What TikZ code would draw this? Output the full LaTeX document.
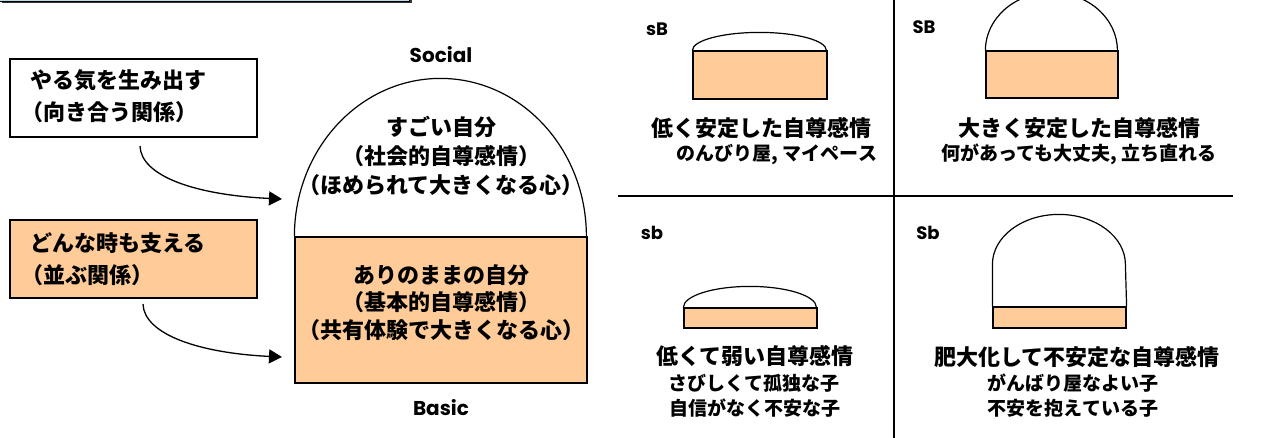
\documentclass[tikz,border=0pt]{standalone}
\usepackage{fontspec}
\setmainfont{Noto Sans CJK JP}
\newfontfamily\lat{Poppins}
\usetikzlibrary{arrows.meta}
\definecolor{peach}{HTML}{FFCC99}
\definecolor{lblue}{HTML}{B7DEE8}
\newcommand\lp{\hbox{\kern-.4em（}}
\newcommand\rp{\hbox{）\kern-.4em}}
\begin{document}
\begin{tikzpicture}[x=1pt,y=-1pt,
  jbig/.style={font=\fontsize{22}{29}\selectfont\bfseries, align=center, inner sep=0pt},
  jsmall/.style={font=\fontsize{19}{25.5}\selectfont\bfseries, align=center, inner sep=0pt},
  jleft/.style={font=\fontsize{22}{32}\selectfont\bfseries, align=left, inner sep=0pt, anchor=west},
  latlab/.style={font=\lat\bfseries\fontsize{18}{18}\selectfont, inner sep=0pt},
  latbig/.style={font=\lat\bfseries\fontsize{20}{20}\selectfont, inner sep=0pt},
  leftbox/.style={draw, line width=1.5pt, minimum width=247pt, minimum height=78pt, inner sep=0pt},
  thin/.style={line width=1.2pt},
  sep/.style={line width=1.8pt},
  arr/.style={line width=1.3pt, -{Triangle[length=13pt,width=14pt]}}
]
\useasboundingbox (0,0) rectangle (1263,437);

% partial top box (cut off by the picture's top edge)
\fill[black!80] (2,-20) rectangle (412,3);
\draw[fill=lblue, line width=0.8pt] (-3,-20) rectangle (409.5,1.6);

% left boxes
\node[leftbox, fill=white] (b1) at (133.5,98) {};
\node[jleft] (t1) at (30,96) {やる気を生み出す\\\lp 向き合う関係\rp};
\node[leftbox, fill=peach] (b2) at (133.5,259) {};
\node[jleft] (t2) at (30,259) {どんな時も支える\\\lp 並ぶ関係\rp};

% main dome
\node[draw, thin, fill=peach, minimum width=292pt, minimum height=146pt, inner sep=0pt]
  (base) at (441,310) {};
\draw[thin] (base.north west) arc[start angle=180, end angle=360, x radius=146, y radius=158];
\node[latbig] (soc) at (441,55) {Social};
\node[latbig] (bas) at (441,408) {Basic};
\node[jbig] (dtxt) at (441,156) {すごい自分\\\lp 社会的自尊感情\rp\\\lp ほめられて大きくなる心\rp};
\node[jbig, font=\fontsize{22}{27.5}\selectfont\bfseries] (btxt) at (441,302.5)
  {ありのままの自分\\\lp 基本的自尊感情\rp\\\lp 共有体験で大きくなる心\rp};

% arrows
\coordinate (a1s) at (140,146);
\coordinate (a1e) at (282,199);
\coordinate (a2s) at (143,304);
\coordinate (a2e) at (282,357);
\draw[arr] (a1s) .. controls (141,176) and (195,195) .. (a1e);
\draw[arr] (a2s) .. controls (144,334) and (198,353) .. (a2e);

% quadrant separators
\coordinate (vt) at (894,-2);
\coordinate (vb) at (894,439);
\coordinate (hl) at (618,196);
\coordinate (hr) at (1233,196);
\draw[sep] (vt) -- (vb);
\draw[sep] (hl) -- (hr);

% sB
\node[latlab] (lsB) at (657,29) {sB};
\node[draw, thin, fill=peach, minimum width=134pt, minimum height=48pt, inner sep=0pt] (rsB) at (760,75) {};
\draw[thin] (rsB.north west) arc[start angle=180, end angle=360, x radius=67, y radius=18];
\node[jbig] (tsB) at (761,128) {低く安定した自尊感情};
\node[jsmall] (usB) at (777,155) {のんびり屋, マイペース};

% SB
\node[latlab] (lSB) at (924,27) {SB};
\node[draw, thin, fill=peach, minimum width=132pt, minimum height=47pt, inner sep=0pt] (rSB) at (1052,74.5) {};
\draw[thin] (rSB.north west) arc[start angle=180, end angle=360, x radius=66, y radius=58];
\node[jbig] (tSB) at (1079,128) {大きく安定した自尊感情};
\node[jsmall] (uSB) at (1079,154) {何があっても大丈夫, 立ち直れる};

% sb
\node[latlab] (lsb) at (652,233) {sb};
\node[draw, thin, fill=peach, minimum width=133pt, minimum height=20pt, inner sep=0pt] (rsb) at (750.5,318) {};
\draw[thin] (rsb.north west) arc[start angle=180, end angle=360, x radius=66.5, y radius=21];
\node[jbig] (tsb) at (755,356) {低くて弱い自尊感情};
\node[jsmall] (usb) at (754,383) {さびしくて孤独な子};
\node[jsmall] (vsb) at (755,408) {自信がなく不安な子};

% Sb
\node[latlab] (lSb) at (928,233) {Sb};
\node[draw, thin, fill=peach, minimum width=133pt, minimum height=21pt, inner sep=0pt] (rSb) at (1059.5,317.5) {};
\draw[thin] (rSb.north west) -- ++(0,-42) arc[start angle=180, end angle=360, x radius=66.5, y radius=50] -- (rSb.north east);
\node[jbig] (tSb) at (1077,357) {肥大化して不安定な自尊感情};
\node[jsmall] (uSb) at (1073,383) {がんばり屋なよい子};
\node[jsmall] (vSb) at (1073,408) {不安を抱えている子};
\end{tikzpicture}
\end{document}
